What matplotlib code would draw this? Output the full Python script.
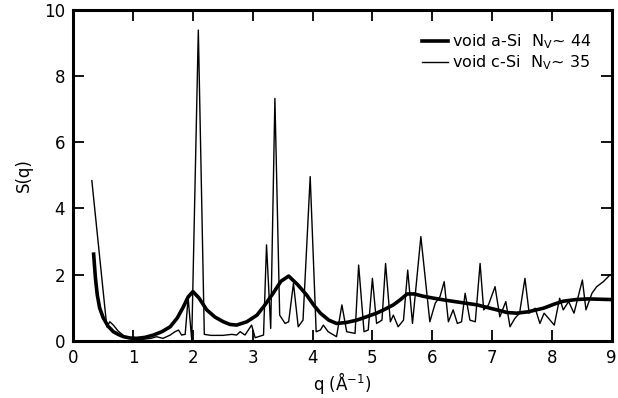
import matplotlib
matplotlib.use('Agg')
import matplotlib.pyplot as plt

# void a-Si (thick, smooth)
q_a = [0.34, 0.37, 0.40, 0.44, 0.50, 0.58, 0.67, 0.75, 0.84, 0.95, 1.06, 1.20, 1.34,
       1.48, 1.62, 1.74, 1.84, 1.92, 2.00, 2.10, 2.23, 2.37, 2.51, 2.62, 2.73, 2.90,
       3.07, 3.20, 3.34, 3.47, 3.60, 3.75, 3.90, 4.02, 4.13, 4.27, 4.40, 4.57, 4.74,
       4.90, 5.07, 5.20, 5.35, 5.47, 5.58, 5.70, 5.85, 6.00, 6.19, 6.45, 6.75, 6.90,
       7.08, 7.25, 7.41, 7.60, 7.86, 8.05, 8.19, 8.40, 8.60, 8.80, 9.00]
s_a = [2.62, 1.90, 1.40, 1.00, 0.70, 0.45, 0.28, 0.20, 0.13, 0.09, 0.08, 0.11, 0.18,
       0.28, 0.43, 0.70, 1.03, 1.33, 1.49, 1.30, 0.94, 0.72, 0.58, 0.50, 0.48, 0.58,
       0.78, 1.08, 1.44, 1.80, 1.96, 1.70, 1.39, 1.08, 0.84, 0.63, 0.53, 0.56, 0.63,
       0.73, 0.84, 0.95, 1.09, 1.25, 1.42, 1.42, 1.35, 1.30, 1.24, 1.17, 1.09, 1.02,
       0.94, 0.86, 0.84, 0.88, 0.99, 1.12, 1.20, 1.25, 1.27, 1.26, 1.25]

# void c-Si (thin, spiky)
q_c = [0.31, 0.56, 0.61, 0.67, 0.75, 0.85, 1.00, 1.15, 1.30, 1.39, 1.50, 1.62, 1.70,
       1.76, 1.81, 1.87, 1.92, 1.98, 2.09, 2.19, 2.30, 2.50, 2.65, 2.73, 2.79, 2.87,
       2.98, 3.04, 3.18, 3.23, 3.30, 3.37, 3.45, 3.54, 3.60, 3.68, 3.76, 3.84, 3.96,
       4.06, 4.13, 4.18, 4.26, 4.40, 4.49, 4.57, 4.71, 4.77, 4.86, 4.93, 5.00, 5.07,
       5.16, 5.22, 5.30, 5.35, 5.43, 5.52, 5.59, 5.67, 5.81, 5.96, 6.05, 6.13, 6.20,
       6.27, 6.35, 6.42, 6.49, 6.55, 6.63, 6.72, 6.80, 6.86, 6.94, 7.05, 7.13, 7.23,
       7.30, 7.38, 7.46, 7.55, 7.62, 7.72, 7.80, 7.87, 7.97, 8.04, 8.13, 8.19, 8.28,
       8.37, 8.51, 8.57, 8.67, 8.75, 8.86, 8.97]
s_c = [4.84, 0.43, 0.58, 0.48, 0.30, 0.15, 0.08, 0.05, 0.08, 0.13, 0.08, 0.18, 0.28,
       0.33, 0.18, 0.20, 1.30, 0.03, 9.38, 0.20, 0.17, 0.17, 0.20, 0.18, 0.28, 0.18,
       0.48, 0.10, 0.18, 2.90, 0.38, 7.32, 0.78, 0.53, 0.58, 1.74, 0.43, 0.63, 4.96,
       0.28, 0.33, 0.48, 0.28, 0.13, 1.09, 0.28, 0.23, 2.29, 0.28, 0.33, 1.89, 0.53,
       0.63, 2.34, 0.58, 0.78, 0.43, 0.63, 2.14, 0.53, 3.15, 0.58, 1.14, 1.34, 1.79,
       0.58, 0.94, 0.53, 0.58, 1.44, 0.63, 0.58, 2.34, 0.94, 1.09, 1.64, 0.73, 1.19,
       0.43, 0.68, 0.84, 1.89, 0.84, 0.99, 0.53, 0.84, 0.63, 0.48, 1.29, 0.94, 1.19,
       0.84, 1.84, 0.94, 1.44, 1.64, 1.79, 1.99]

x_ticks = [0, 1, 2, 3, 4, 5, 6, 7, 8, 9]
y_ticks = [0, 2, 4, 6, 8, 10]

fig = plt.figure(figsize=(6.18, 3.98), dpi=100)
ax = fig.add_axes([0.1186, 0.1432, 0.8712, 0.8328])

ax.plot(q_a, s_a, color='black', lw=2.6, label=r'void a-Si  N$_\mathregular{V}$~ 44',
        solid_joinstyle='round')
ax.plot(q_c, s_c, color='black', lw=1.0, label=r'void c-Si  N$_\mathregular{V}$~ 35')

ax.set_xlim(0, 9)
ax.set_ylim(0, 10)
ax.set_xticks(x_ticks)
ax.set_yticks(y_ticks)
ax.tick_params(direction='in', length=8, width=1.3, top=True, right=True,
               labelsize=12, pad=6)
for sp in ax.spines.values():
    sp.set_linewidth(2.2)

ax.set_xlabel(r'q ($\mathregular{\AA^{-1}}$)', fontsize=12, labelpad=2)
ax.set_ylabel('S(q)', fontsize=12, labelpad=8)

# legend sits a bit lower with tighter rows, like the reference
ax.legend(loc='upper right', frameon=False, fontsize=11.5, handlelength=1.6,
          handletextpad=0.3, borderaxespad=0.0, labelspacing=0.15,
          bbox_to_anchor=(0.975, 0.95))

fig.savefig('out.png', dpi=100)
